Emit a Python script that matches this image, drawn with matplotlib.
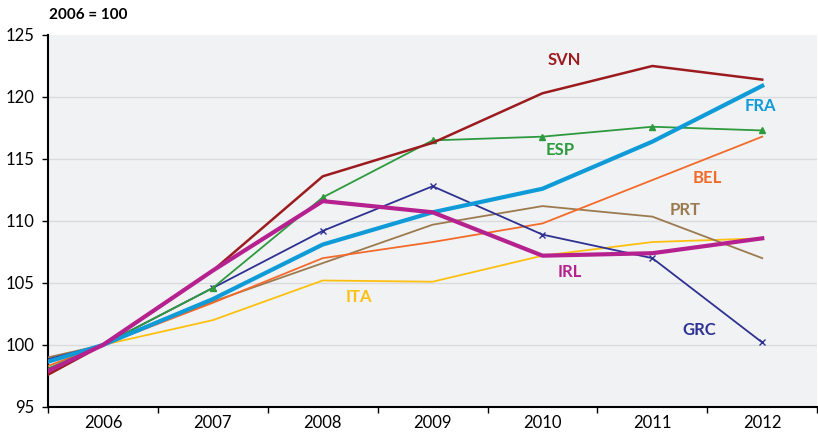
import numpy as np
import matplotlib
matplotlib.use("Agg")
import matplotlib.pyplot as plt

years = [2005, 2006, 2007, 2008, 2009, 2010, 2011, 2012]
tick_labels = ["2006", "2007", "2008", "2009", "2010", "2011", "2012"]

ITA = [np.nan, 100, 102.0, 105.2, 105.1, 107.2, 108.3, 108.6]
PRT = [98.0, 100, 103.5, 106.6, 109.7, 111.2, 110.35, 107.0]
BEL = [96.6, 100, 103.4, 107.0, 108.3, 109.8, 113.3, 116.8]
GRC = [97.7, 100, 104.6, 109.2, 112.8, 108.9, 107.0, 100.2]
ESP = [96.2, 100, 104.6, 111.9, 116.5, 116.8, 117.6, 117.3]
SVN = [95.2, 100, 106.0, 113.6, 116.3, 120.3, 122.5, 121.4]
FRA = [97.3, 100, 103.7, 108.1, 110.7, 112.6, 116.4, 120.9]
IRL = [95.8, 100, 106.0, 111.6, 110.7, 107.2, 107.4, 108.6]

plt.rcParams['font.family'] = ['Lato', 'DejaVu Sans']

fig = plt.figure(figsize=(8.18, 4.32), dpi=100)
ax = fig.add_axes([0.0587, 0.058, 0.9403, 0.861])
ax.set_facecolor("#F1F2F4")

series = [
    ("ITA", ITA, "#FDC010", 1.3, None, (2008.33, 103.9)),
    ("PRT", PRT, "#9C7A4F", 1.3, None, (2011.3, 110.9)),
    ("BEL", BEL, "#F26B2A", 1.3, None, (2011.5, 113.5)),
    ("GRC", GRC, "#2E3192", 1.3, "x", (2011.43, 101.2)),
    ("ESP", ESP, "#2E9A3E", 1.3, "^", (2010.16, 115.7)),
    ("SVN", SVN, "#9B1B1F", 1.8, None, (2010.2, 123.0)),
    ("FRA", FRA, "#0F9BD7", 3.0, None, (2011.98, 119.3)),
    ("IRL", IRL, "#B5218E", 3.0, None, (2010.25, 105.9)),
]

for name, vals, col, lw, mk, (lx, ly) in series:
    ax.plot(years, vals, color=col, lw=lw, marker=mk, markersize=5,
            markevery=list(range(2, 8)) if mk else None, zorder=3)
    ax.text(lx, ly, name, color=col, fontsize=12, fontweight="bold",
            ha="center", va="center", zorder=4)

ax.set_xlim(2005.5, 2012.5)
ax.set_ylim(95, 125)
ax.set_yticks([95, 100, 105, 110, 115, 120, 125])
ax.set_yticklabels(["95", "100", "105", "110", "115", "120", "125"], fontsize=12)
for y in [100, 105, 110, 115, 120]:
    ax.axhline(y, color="#D9DADC", lw=0.9, zorder=1)

ax.set_xticks(np.arange(2005.5, 2012.6, 1.0))
ax.set_xticklabels([])
ax.set_xticks(range(2006, 2013), minor=True)
ax.set_xticklabels(tick_labels, minor=True, fontsize=12)
ax.tick_params(axis="x", which="minor", length=0, pad=6)
ax.tick_params(axis="x", which="major", length=4, direction="out", width=1)
ax.tick_params(axis="y", length=4, direction="out", width=1, pad=6)

for s in ["top", "right"]:
    ax.spines[s].set_visible(False)
for s in ["left", "bottom"]:
    ax.spines[s].set_linewidth(1.5)
    ax.spines[s].set_color("black")

fig.text(0.06, 0.965, "2006 = 100", fontsize=11, fontweight="bold", ha="left", va="center")

fig.savefig("out.png", dpi=100)
